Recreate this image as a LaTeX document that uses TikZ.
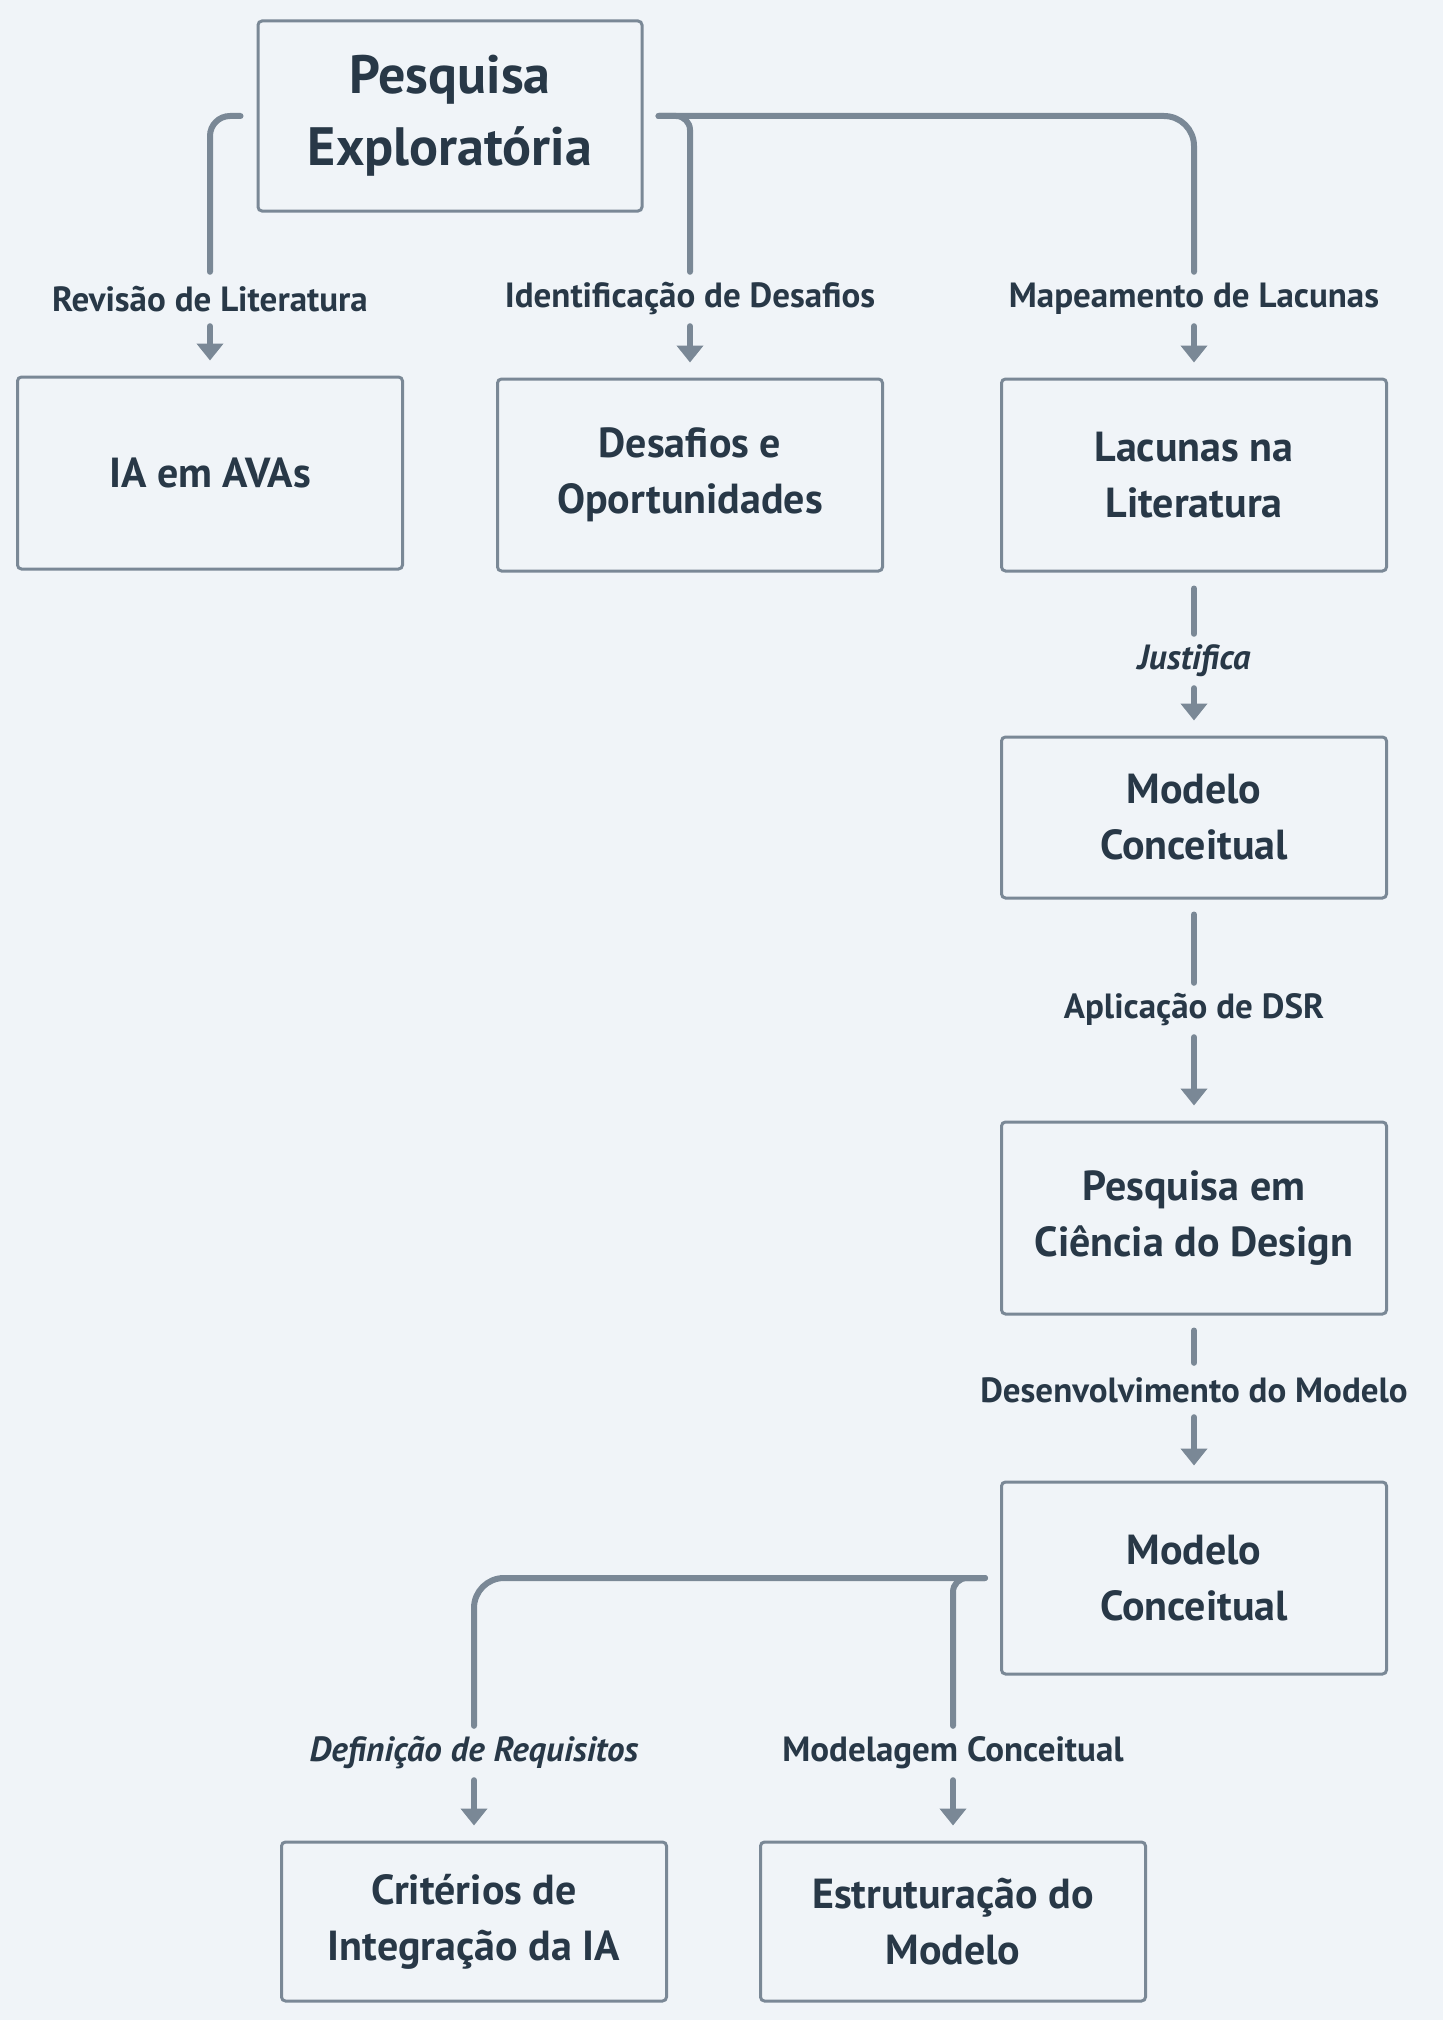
\documentclass[tikz,border=0pt]{standalone}
\usepackage{fontspec}
\setmainfont{PT Sans}
\usetikzlibrary{arrows.meta,positioning}
\definecolor{bgc}{HTML}{F0F4F8}
\definecolor{linec}{HTML}{7A8896}
\definecolor{textc}{HTML}{283847}
\tikzset{
  box/.style={draw=linec, line width=3pt, rounded corners=4pt, minimum width=385pt, minimum height=192pt, align=center, text=textc, inner sep=0pt, font=\fontsize{42}{56}\selectfont\bfseries},
  lab/.style={text=textc, inner sep=0pt, minimum height=54pt, font=\fontsize{35}{40}\selectfont\bfseries},
  conn/.style={draw=linec, line width=6pt, line cap=round, rounded corners=24pt},
  seg/.style={draw=linec, line width=6pt, line cap=round},
  arr/.style={draw=linec, line width=6pt, line cap=round, -{Triangle[width=26pt,length=17pt]}, shorten >=15pt},
}
\begin{document}
\begin{tikzpicture}[x=1pt,y=-1pt]
\useasboundingbox (0,0) rectangle (1443,2020);
\fill[bgc] (0,0) rectangle (1443,2020);
% boxes
\node[box, minimum width=384pt, minimum height=190pt, font=\fontsize{54}{72}\selectfont\bfseries] (top) at (450,116) {Pesquisa\\Exploratória};
\node[box] (ia) at (210,473) {IA em AVAs};
\node[box] (des) at (690,475) {Desafios e\\Oportunidades};
\node[box] (lac) at (1194,475) {Lacunas na\\Literatura};
\node[box, minimum height=161pt] (mc1) at (1194,817.5) {Modelo\\Conceitual};
\node[box] (pcd) at (1194,1218) {Pesquisa em\\Ciência do Design};
\node[box] (mc2) at (1194,1578) {Modelo\\Conceitual};
\node[box, minimum height=159pt] (cri) at (474,1921.5) {Critérios de\\Integração da IA};
\node[box, minimum height=159pt] (est) at (953,1921.5) {Estruturação do\\Modelo};
% labels
\node[lab] (l1) at (210,299) {Revisão de Literatura};
\node[lab] (l2) at (690,299) {Identificação de Desafios};
\node[lab] (l3) at (1194,299) {Mapeamento de Lacunas};
\node[lab, font=\fontsize{35}{40}\selectfont\bfseries\itshape] (l4) at (1194,661) {Justifica};
\node[lab] (l5) at (1194,1010) {Aplicação de DSR};
\node[lab] (l6) at (1194,1390) {Desenvolvimento do Modelo};
\node[lab, font=\fontsize{35}{40}\selectfont\bfseries\itshape] (l7) at (474,1753) {Definição de Requisitos};
\node[lab] (l8) at (953,1753) {Modelagem Conceitual};
% connectors top
\draw[conn, rounded corners=20pt] ([xshift=-16pt]top.west) -| (l1.north);
\draw[conn, rounded corners=14pt] ([xshift=15pt]top.east) -| (l2.north);
\draw[conn, rounded corners=30pt] ([xshift=15pt]top.east) -| (l3.north);
\draw[arr] (l1.south) -- (ia.north);
\draw[arr] (l2.south) -- (des.north);
\draw[arr] (l3.south) -- (lac.north);
% vertical chain
\draw[seg] ([yshift=-16pt]lac.south) -- (l4.north);
\draw[arr] (l4.south) -- (mc1.north);
\draw[seg] ([yshift=-15pt]mc1.south) -- (l5.north);
\draw[arr] (l5.south) -- (pcd.north);
\draw[seg] ([yshift=-15pt]pcd.south) -- (l6.north);
\draw[arr] (l6.south) -- (mc2.north);
% bottom branches
\draw[conn, rounded corners=30pt] ([xshift=-15pt]mc2.west) -| (l7.north);
\draw[conn, rounded corners=14pt] ([xshift=-15pt]mc2.west) -| (l8.north);
\draw[arr] (l7.south) -- (cri.north);
\draw[arr] (l8.south) -- (est.north);
\end{tikzpicture}
\end{document}
